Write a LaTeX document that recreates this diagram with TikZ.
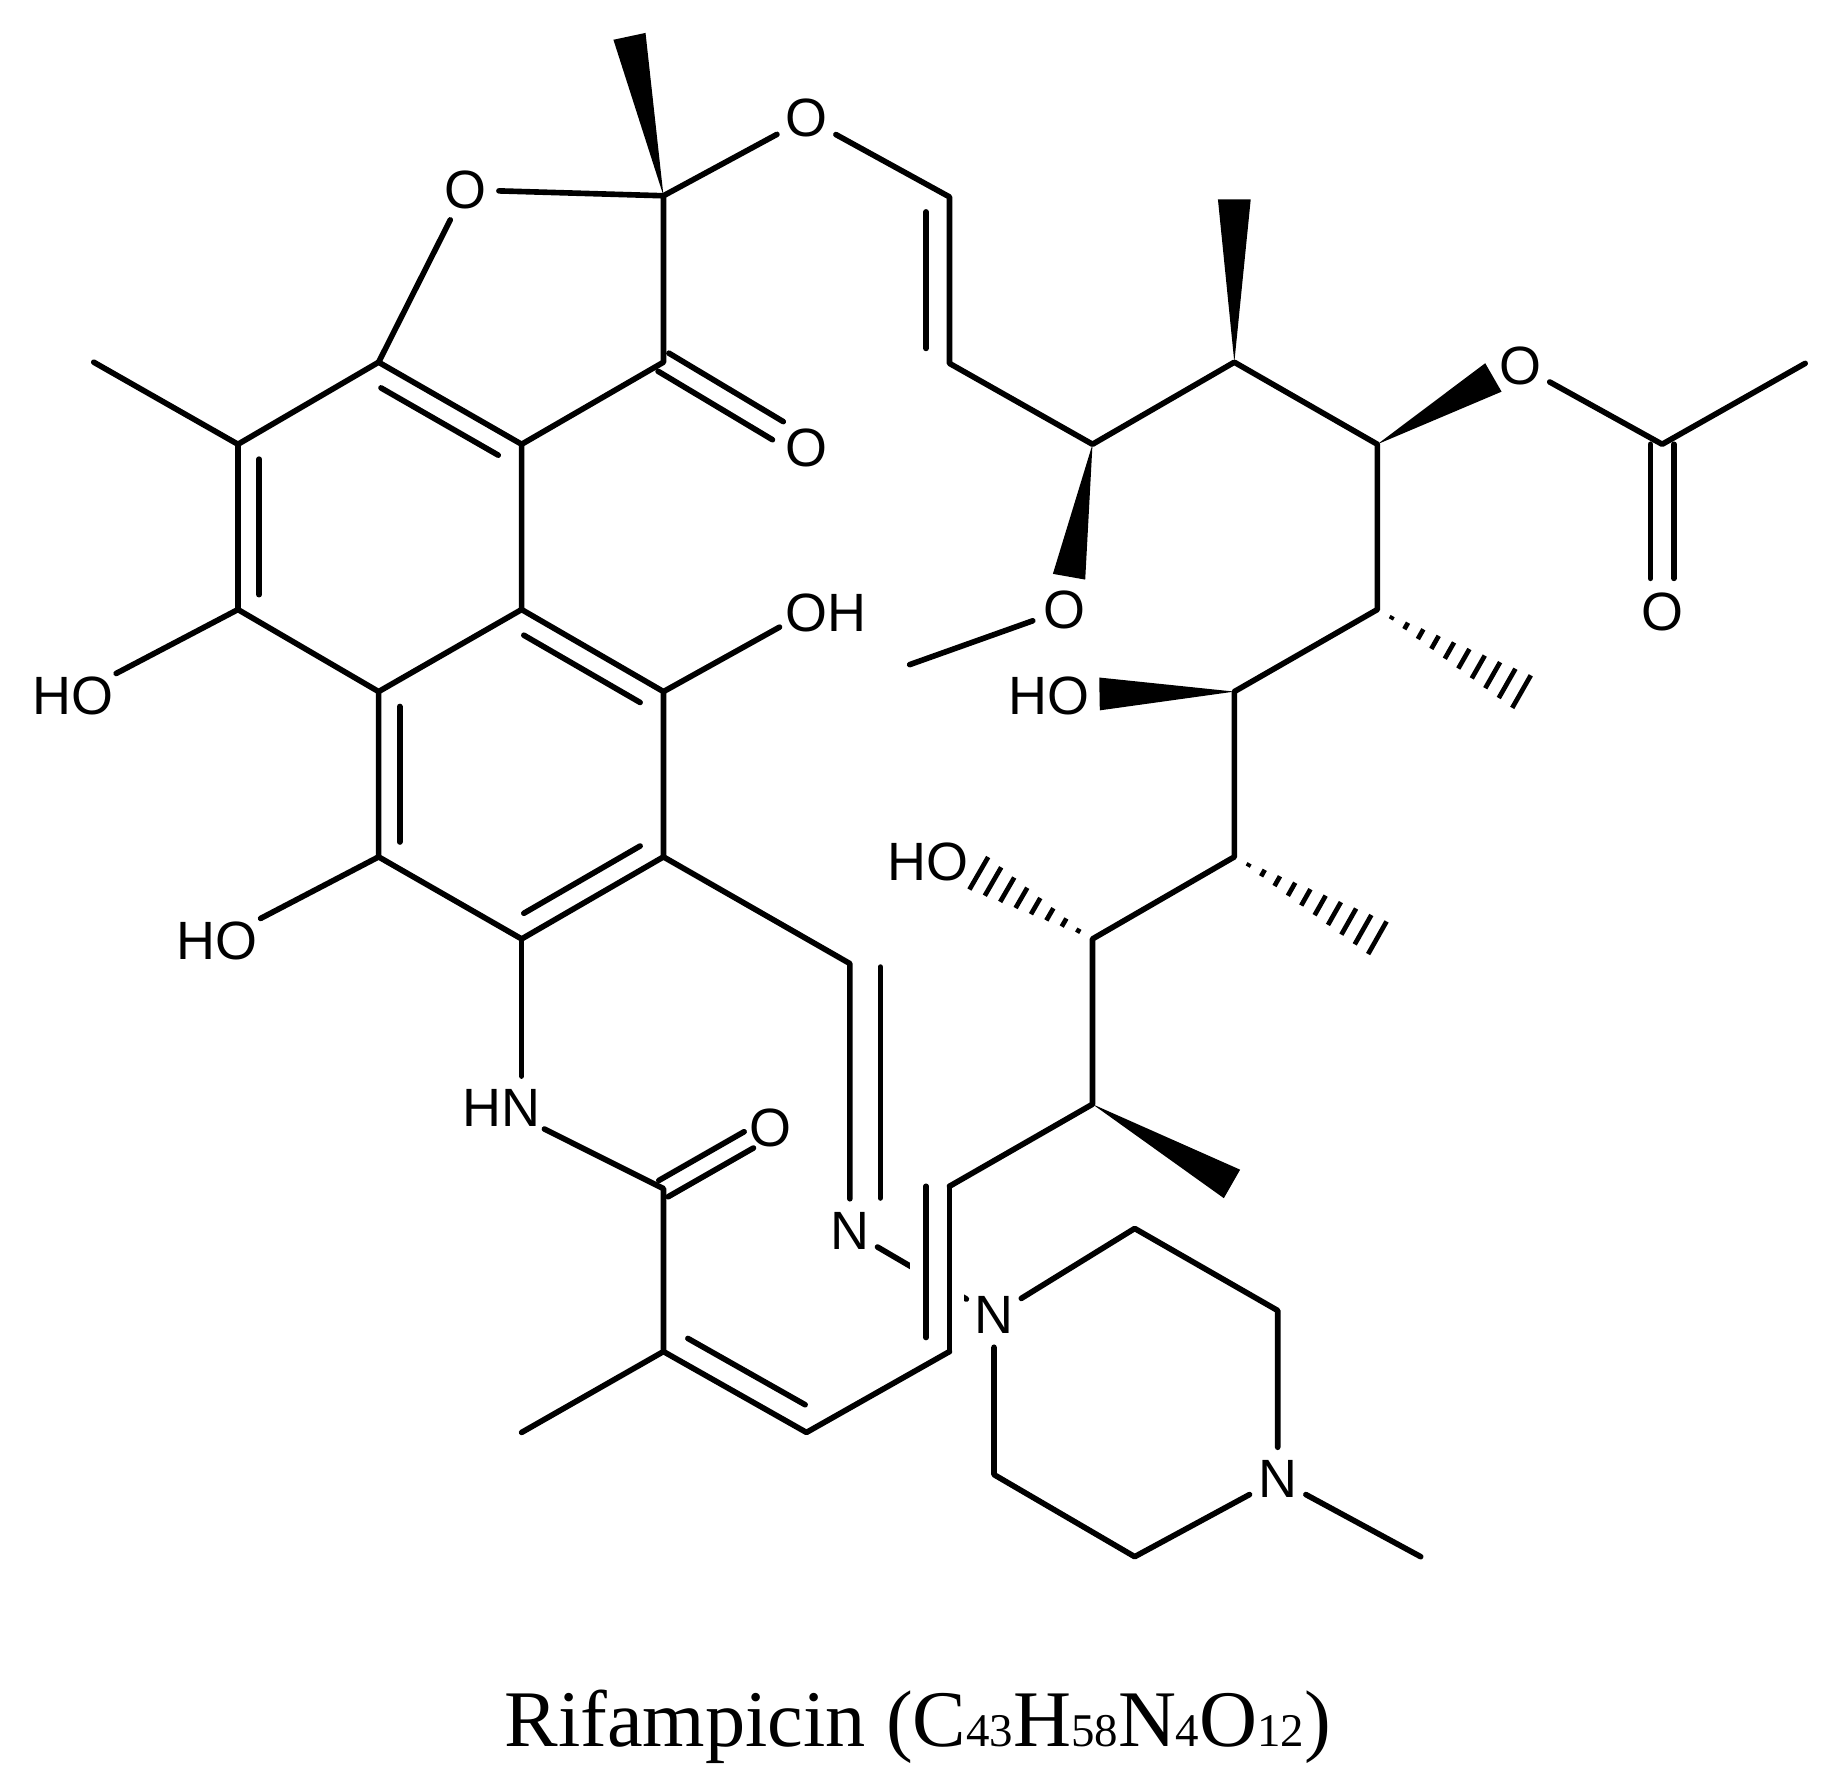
\documentclass[tikz,border=0pt]{standalone}
\usepackage{fontspec}
\setmainfont{Liberation Sans}
\newfontfamily\captionfont{Liberation Serif}
\usetikzlibrary{calc}
\tikzset{
  bond/.style={line width=4.8pt,line cap=round,line join=round},
  atom/.style={font=\fontsize{46}{50}\selectfont,circle,inner sep=3pt},
  group/.style={font=\fontsize{46}{50}\selectfont,inner sep=3pt},
}
% parallel line of a double bond: from, to, offset to the left
\newcommand{\innerbond}[3]{\draw[bond] ($(#1)!0.09!(#2)!#3pt!90:(#2)$) -- ($(#1)!0.91!(#2)!#3pt!90:(#2)$);}
% double bond to an oxygen: two lines either side of the axis
\newcommand{\dblbond}[3]{
  \draw[bond] ($(#1)!#3pt!90:(#2)$) -- ($(#1)!0.8!(#2)!#3pt!90:(#2)$);
  \draw[bond] ($(#1)!#3pt!-90:(#2)$) -- ($(#1)!0.8!(#2)!#3pt!-90:(#2)$);}
% solid wedge: tip, end, half width of the end
\newcommand{\wedgebond}[3]{\fill ($(#1)$) -- ($(#2)!#3pt!90:(#1)$) -- ($(#2)!#3pt!-90:(#1)$) -- cycle;}
% hashed wedge: narrow end, wide end, half width of the last stroke, positions
\newcommand{\hashbond}[4]{\foreach \pos in {#4}{
    \pgfmathsetmacro{\hw}{#3*\pos}
    \draw[line width=4pt] ($(#1)!\pos!(#2)!\hw pt!90:(#1)$) -- ($(#1)!\pos!(#2)!\hw pt!-90:(#1)$);}}
\newcommand{\chemsub}[1]{{\fontsize{40}{50}\selectfont #1}}
\begin{document}
\begin{tikzpicture}[x=1pt,y=-1pt]
\useasboundingbox (0,0) rectangle (1568,1523);
% naphthalene rings
\coordinate (c1) at (203,379);
\coordinate (a1) at (323,309);
\coordinate (a2) at (445,379);
\coordinate (a3) at (445,520);
\coordinate (a4) at (323,590);
\coordinate (a5) at (203,520);
\coordinate (b1) at (566,590);
\coordinate (b2) at (566,731);
\coordinate (b3) at (445,801);
\coordinate (b4) at (323,731);
% furanone ring
\coordinate (c2) at (566,167);
\coordinate (c3) at (566,309);
\coordinate (me1) at (80,309);
\coordinate (w1) at (537,31);
% ansa chain
\coordinate (d1) at (810,168);
\coordinate (d2) at (810,310);
\coordinate (d3) at (932,379);
\coordinate (d4) at (1053,309);
\coordinate (d5) at (1175,379);
\coordinate (e1) at (1418,379);
\coordinate (me2) at (1540,310);
\coordinate (f1) at (1175,520);
\coordinate (f2) at (1053,590);
\coordinate (f3) at (1053,731);
\coordinate (f4) at (932,801);
\coordinate (f5) at (932,942);
\coordinate (g1) at (810,1012);
\coordinate (g2) at (810,1153);
\coordinate (g3) at (688,1222);
\coordinate (g4) at (566,1153);
\coordinate (g5) at (445,1222);
\coordinate (g6) at (790,1012);
\coordinate (g7) at (790,1141);
\coordinate (h1) at (566,1014);
\coordinate (i1) at (725,822);
\coordinate (i2) at (751,825);
\coordinate (i3) at (751,1022);
\coordinate (me3) at (776,567);
\coordinate (hn1) at (445,918);
\coordinate (oh2b) at (665,535);
% wedge ends
\coordinate (w2) at (1053,170);
\coordinate (w3) at (1274,322);
\coordinate (w4) at (912,492);
\coordinate (w5) at (938,592);
\coordinate (w6) at (1051,1010);
\coordinate (w7) at (1298,590);
\coordinate (w8) at (1175,800);
\coordinate (w9) at (835,745);
% piperazine
\coordinate (j1) at (968,1048);
\coordinate (j2) at (1090,1118);
\coordinate (j3) at (968,1328);
\coordinate (j4) at (848,1258);
\coordinate (me4) at (1212,1328);
% atoms
\node[atom] (o1) at (397,162) {O};
\node[atom] (o2) at (688,101) {O};
\node[atom] (o3) at (688,382) {O};
\node[atom] (o4) at (1297,312) {O};
\node[atom] (o5) at (1418,522) {O};
\node[atom] (o6) at (908,520) {O};
\node[atom] (o7) at (657,962) {O};
\node[group] (oh1) at (62,594) {HO};
\node[group] (oh2) at (705,523) {OH};
\node[group] (oh3) at (185,803) {HO};
\node[group] (oh4) at (895,594) {HO};
\node[group] (oh5) at (792,735) {HO};
\node[group] (hn) at (428,945) {HN};
\node[atom] (n1) at (725,1050) {N};
\node[atom] (n2) at (848,1122) {N};
\node[atom] (n3) at (1090,1262) {N};
% rings
\draw[bond] (a1) -- (c1) -- (a5) -- (a4) -- (a3) -- (a2) -- (a1);
\draw[bond] (a3) -- (b1) -- (b2) -- (b3) -- (b4) -- (a4);
\draw[bond] (c1) -- (me1);
\draw[bond] (a1) -- (o1) -- (c2) -- (c3) -- (a2);
\innerbond{c1}{a5}{18}
\innerbond{a1}{a2}{-18}
\innerbond{a3}{b1}{-18}
\innerbond{a4}{b4}{18}
\innerbond{b2}{b3}{-18}
% ring substituents
\draw[bond] (a5) -- (oh1);
\draw[bond] (b1) -- (oh2b);
\draw[bond] (b4) -- (oh3);
\draw[bond] (b3) -- (hn1);
\dblbond{c3}{o3}{9}
\wedgebond{c2}{w1}{14}
% chain up to the acetate
\draw[bond] (c2) -- (o2) -- (d1) -- (d2) -- (d3) -- (d4) -- (d5) -- (f1) -- (f2) -- (f3) -- (f4) -- (f5) -- (g1);
\innerbond{d1}{d2}{-20}
\wedgebond{d4}{w2}{14}
\wedgebond{d5}{w3}{14}
\draw[bond] (o4) -- (e1) -- (me2);
\dblbond{e1}{o5}{10}
\wedgebond{d3}{w4}{14}
\draw[bond] (o6) -- (me3);
\hashbond{f1}{w7}{16}{0.1,0.2,0.3,0.4,0.5,0.6,0.7,0.8,0.9,1.0}
\wedgebond{f2}{w5}{14}
\hashbond{f3}{w8}{16}{0.1,0.2,0.3,0.4,0.5,0.6,0.7,0.8,0.9,1.0}
\hashbond{f4}{w9}{16}{0.125,0.25,0.375,0.5,0.625,0.75,0.875,1.0}
\wedgebond{f5}{w6}{14}
% amide and second double bond
\draw[bond] (hn) -- (h1) -- (g4) -- (g5);
\dblbond{h1}{o7}{8}
\draw[bond] (g4) -- (g3) -- (g2);
\innerbond{g4}{g3}{20}
% imine
\draw[bond] (b2) -- (i1) -- (n1);
\draw[bond] (i2) -- (i3);
\draw[bond] (n1) -- (n2);
\fill[white] (776,1060) rectangle (822,1110); % gap of the N-N bond
\draw[bond] (g1) -- (g2);
\draw[bond] (g6) -- (g7);
% piperazine
\draw[bond] (n2) -- (j1) -- (j2) -- (n3) -- (j3) -- (j4) -- (n2);
\draw[bond] (n3) -- (me4);
% caption
\node[font=\captionfont\fontsize{68.5}{76}\selectfont,inner sep=0pt] (title) at (783,1473) {Rifampicin (C\chemsub{43}H\chemsub{58}N\chemsub{4}O\chemsub{12})};
\end{tikzpicture}
\end{document}
